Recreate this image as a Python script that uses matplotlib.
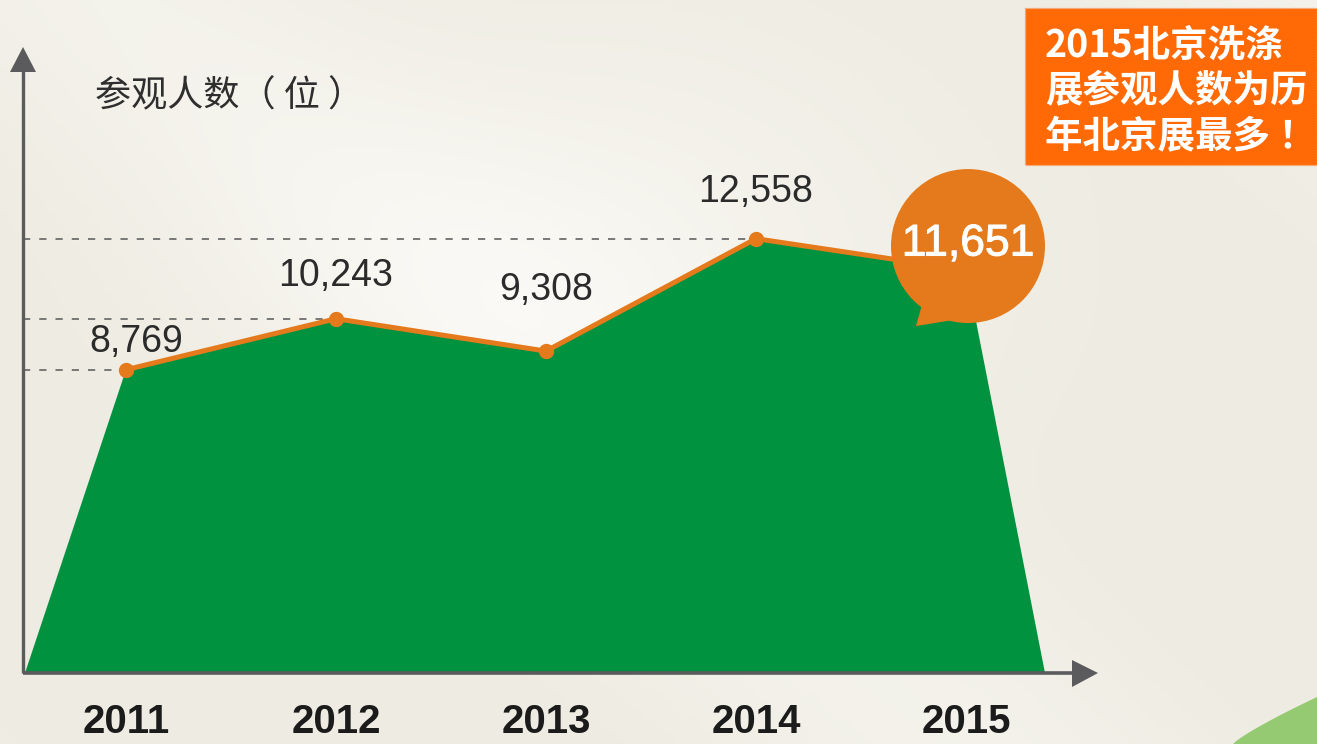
import numpy as np
import matplotlib
matplotlib.use("Agg")
import matplotlib.pyplot as plt
import matplotlib.patheffects as pe
from matplotlib.patches import Polygon, Rectangle, Circle

# ---- data ----
years = [2011, 2012, 2013, 2014, 2015]
visitors = [8769, 10243, 9308, 12558, 11651]
value_labels = ["8,769", "10,243", "9,308", "12,558", "11,651"]
year_labels = ["2011", "2012", "2013", "2014", "2015"]
dashed_years = [2011, 2012, 2014]
y_title = "参观人数（ 位 ）"
box_lines = ["2015北京洗涤", "展参观人数为历", "年北京展最多 ！"]

W, H = 1317, 744
fig = plt.figure(figsize=(W / 100, H / 100), dpi=100)

# background overlay axes in pixel coordinates
bg = fig.add_axes([0, 0, 1, 1])
bg.set_xlim(0, W)
bg.set_ylim(H, 0)
bg.axis("off")
xx, yy = np.meshgrid(np.linspace(0, 1, 400), np.linspace(0, 1, 230))
base = np.array([238, 236, 226]) / 255.0
light = np.array([252, 251, 248]) / 255.0
t = (0.5 + 0.5 * np.sin(6.0 * (xx * 1.1 - yy * 0.7) + 1.0)) ** 3
t = 0.4 * t + 0.55 * np.exp(-((xx - 0.45) ** 2 / 0.06 + (yy - 0.35) ** 2 / 0.09))
t = np.clip(t, 0, 1)
img = base[None, None, :] * (1 - t[..., None]) + light[None, None, :] * t[..., None]
bg.imshow(img, extent=(0, W, H, 0), aspect="auto", zorder=0)
# light green swoosh bottom-right
sw_x = np.linspace(1233, 1317, 30)
sw_y = 744 - 47 * ((sw_x - 1233) / 84) ** 0.85
bg.add_patch(Polygon(list(zip(sw_x, sw_y)) + [(1317, 744)], closed=True,
                     facecolor="#95CA72", edgecolor="none", zorder=1))

# data axes
x0p, x1p, ytop, ybot = 23, 1098, 47, 673
first_px = 126
ax = fig.add_axes([x0p / W, (H - ybot) / H, (x1p - x0p) / W, (ybot - ytop) / H])
ax.patch.set_alpha(0)
step = 210.0
xmin = years[0] - (first_px - x0p) / step
xmax = years[0] + (x1p - first_px) / step
ax.set_xlim(xmin, xmax)
ax.set_ylim(0, 18100)
ax.axis("off")

green = "#00923F"
orange = "#E57A1C"

# green area polygon
left_foot = years[0] - 101 / step
right_foot = years[-1] + 79 / step
poly = [(left_foot, 0)] + list(zip(years, visitors)) + [(right_foot, 0)]
ax.add_patch(Polygon(poly, closed=True, facecolor=green, edgecolor="none", zorder=2))

# dashed guide lines
for yr in dashed_years:
    v = visitors[years.index(yr)]
    ax.plot([xmin, yr], [v, v], color="#6e6e6e", lw=1.3,
            linestyle=(0, (4, 5)), zorder=1)

# orange line with markers
ax.plot(years, visitors, color=orange, lw=3.6, marker="o", markersize=10,
        zorder=4, solid_joinstyle="round")

# value labels (first four)
offsets = [28, 43, 61, 47]
dx = [10, 0, 0, 0]
for i in range(4):
    ax.annotate(value_labels[i], (years[i], visitors[i]), xytext=(dx[i] * 0.72, offsets[i] * 0.72),
                textcoords="offset points", ha="center", va="center",
                fontsize=27, color="#2b2b2b", family="Liberation Sans", zorder=5)

fig.canvas.draw()
# pixel position of last point
px, py = ax.transData.transform((years[-1], visitors[-1]))
py = H - py
cx, cy, r = px + 2, py - 24, 77
tail = Polygon([(cx - 45, cy + 55), (cx - 15, cy + 74), (cx - 52, cy + 80)],
               closed=True, facecolor=orange, edgecolor="none", zorder=6)
fig.add_artist(tail)
tail.set_transform(bg.transData)
circ = Circle((cx, cy), r, facecolor=orange, edgecolor="none", zorder=6,
              transform=bg.transData)
fig.add_artist(circ)
fig.text(cx / W, 1 - (cy - 2) / H, value_labels[-1], ha="center", va="center",
         fontsize=32, color="white", family="Liberation Sans", zorder=7,
         path_effects=[pe.withStroke(linewidth=0.7, foreground="white")])

# axes lines and arrows (pixel coords)
axis_col = "#5b5a5c"
bg2 = fig.add_axes([0, 0, 1, 1])
bg2.set_xlim(0, W)
bg2.set_ylim(H, 0)
bg2.axis("off")
bg2.patch.set_alpha(0)
bg2.plot([23, 23], [673, 70], color=axis_col, lw=2.4, solid_capstyle="butt")
bg2.plot([23, 1075], [673, 673], color=axis_col, lw=2.6, solid_capstyle="butt")
bg2.add_patch(Polygon([(23, 47), (10, 72), (36, 72)], closed=True, facecolor=axis_col, edgecolor="none"))
bg2.add_patch(Polygon([(1098, 673), (1072, 660), (1072, 687)], closed=True, facecolor=axis_col, edgecolor="none"))

# year labels
for yr, lab in zip(years, year_labels):
    xp = ax.transData.transform((yr, 0))[0]
    bg2.text(xp, 722, lab, ha="center", va="center", fontsize=29, fontweight="bold",
             color="#1b1b1b", family="Liberation Sans")

# y title
bg2.text(95, 96, y_title, ha="left", va="center", fontsize=26, color="#2e2e2e",
         family=["Noto Sans CJK SC", "DejaVu Sans"])

# orange highlight box
bg2.add_patch(Rectangle((1025, 8), 292, 157, facecolor="#FF6A06", edgecolor="#f3a878",
                        lw=1.0, linestyle=(0, (1, 1))))
for i, line in enumerate(box_lines):
    bg2.text(1045, 45 + i * 46, line, ha="left", va="center", fontsize=27, fontweight="bold",
             color="white", family=["Noto Sans CJK SC", "DejaVu Sans"])

fig.savefig("out.png", dpi=100)
